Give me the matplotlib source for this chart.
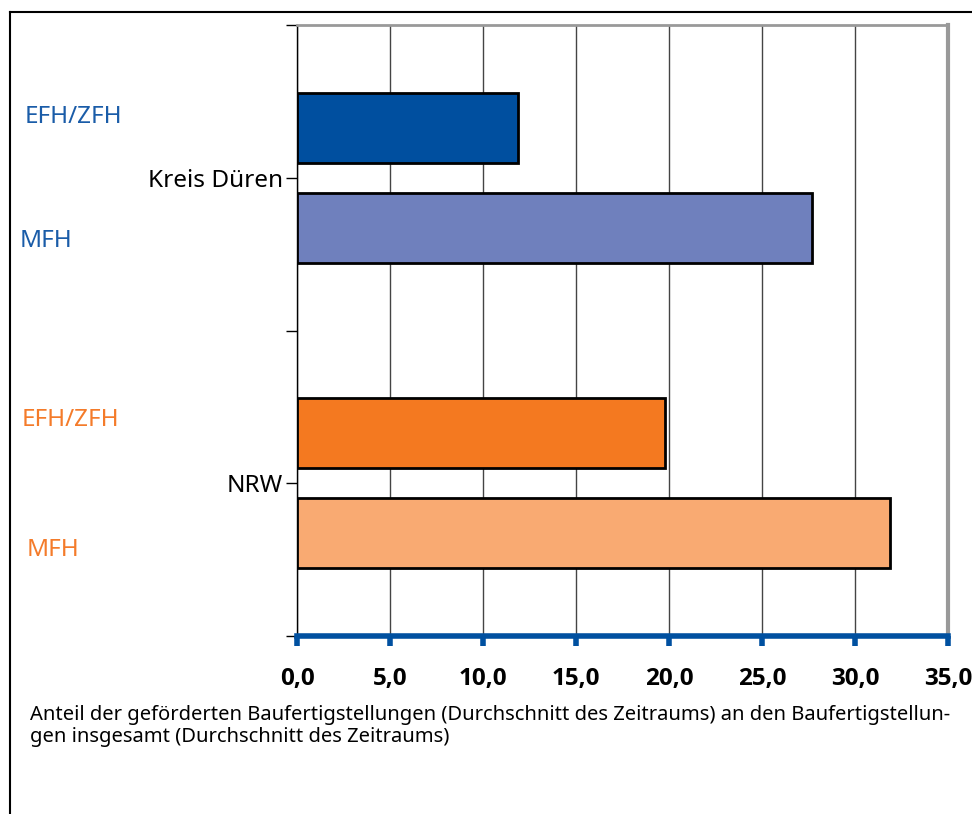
import numpy as np
import matplotlib
matplotlib.use("Agg")
import matplotlib.pyplot as plt
from matplotlib.lines import Line2D

plt.rcParams['font.family'] = ['Noto Sans', 'DejaVu Sans']

# data
regions = ["Kreis Düren", "NRW"]
efh_zfh = [11.9, 19.8]
mfh = [27.7, 31.9]
xticks = [0, 5, 10, 15, 20, 25, 30, 35]
xticklabels = ["0,0", "5,0", "10,0", "15,0", "20,0", "25,0", "30,0", "35,0"]
caption = ("Anteil der geförderten Baufertigstellungen (Durchschnitt des Zeitraums) an den Baufertigstellun-\n"
           "gen insgesamt (Durchschnitt des Zeitraums)")

efh_cols = ["#004f9f", "#f47920"]
mfh_cols = ["#6f80bd", "#f9aa72"]
label_cols = ["#1a5ca8", "#f47b2a"]

fig = plt.figure(figsize=(9.72, 8.14), dpi=100)
ax = fig.add_axes([297/972, 1-636/814, (948-297)/972, (636-25)/814])

pos = np.array([0.5, 1.5])
off = 0.163
h = 0.229
ax.barh(pos - off, efh_zfh, height=h, color=efh_cols, edgecolor="black", linewidth=2, zorder=3)
ax.barh(pos + off, mfh, height=h, color=mfh_cols, edgecolor="black", linewidth=2, zorder=3)

ax.set_xlim(0, 35)
ax.set_ylim(2, 0)
ax.set_xticks(xticks, labels=xticklabels)
ax.set_yticks(pos)
ax.set_yticklabels(regions)
ax.set_yticks([0, 1, 2], minor=True)

ax.grid(axis="x", color="#444444", linewidth=1, zorder=0)

ax.tick_params(axis="x", direction="out", length=7, width=4, color="#0050a0",
               labelsize=17.5, pad=15)
ax.tick_params(axis="y", which="both", direction="out", length=8, width=1,
               color="black", labelsize=17.5, pad=2)
for lbl in ax.get_xticklabels():
    lbl.set_fontfamily(["Open Sans", "DejaVu Sans"])
    lbl.set_fontweight("bold")

ax.spines["bottom"].set_color("#0050a0")
ax.spines["bottom"].set_linewidth(4)
ax.spines["bottom"].set_zorder(4)
ax.spines["left"].set_color("black")
ax.spines["left"].set_linewidth(1)
ax.spines["top"].set_color("#999999")
ax.spines["top"].set_linewidth(2)
ax.spines["right"].set_color("#999999")
ax.spines["right"].set_linewidth(3)

# series labels at left
fig.text(25/972, 1-117/814, "EFH/ZFH", color=label_cols[0], fontsize=17.5, va="center", ha="left")
fig.text(20/972, 1-241/814, "MFH", color=label_cols[0], fontsize=17.5, va="center", ha="left")
fig.text(22/972, 1-420/814, "EFH/ZFH", color=label_cols[1], fontsize=17.5, va="center", ha="left")
fig.text(27/972, 1-550/814, "MFH", color=label_cols[1], fontsize=17.5, va="center", ha="left")

fig.text(30/972, 1-705/814, caption, fontsize=14.5, va="top", ha="left", linespacing=1.15)

# frame lines
fig.add_artist(Line2D([10/972, 10/972], [0, 1-12/814], transform=fig.transFigure, color="black", lw=1.5))
fig.add_artist(Line2D([10/972, 1], [1-12/814, 1-12/814], transform=fig.transFigure, color="black", lw=1.5))

fig.savefig("out.png", dpi=100)
